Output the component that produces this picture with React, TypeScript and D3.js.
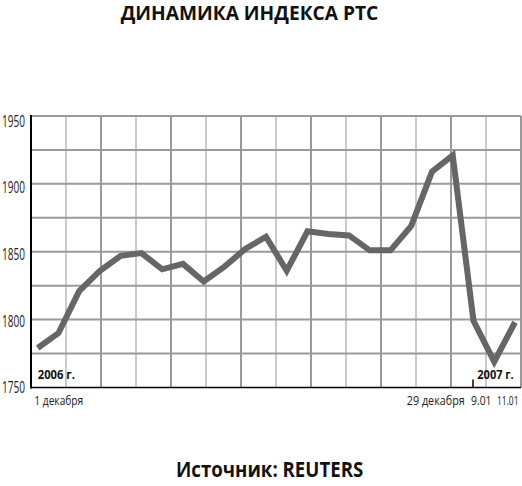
import React, { useLayoutEffect, useRef, useState } from "react";
import * as d3 from "d3";

const dates = [
  "1.12", "4.12", "5.12", "6.12", "7.12", "8.12", "11.12", "12.12", "13.12", "14.12",
  "15.12", "18.12", "19.12", "20.12", "21.12", "22.12", "25.12", "26.12", "27.12", "28.12",
  "29.12", "9.01", "10.01", "11.01",
];
const values = [
  1779, 1790, 1821, 1836, 1847, 1849, 1837, 1841, 1828, 1839,
  1852, 1861, 1836, 1865, 1863, 1862, 1851, 1851, 1869, 1909,
  1921, 1799, 1769, 1798,
];
const yTicks = [1750, 1800, 1850, 1900, 1950];
const yGrid = [1775, 1800, 1825, 1850, 1875, 1900, 1925, 1950];
const xLabels = [
  { i: 0, text: "1 декабря", dx: -3.4, len: 49 },
  { i: 20, text: "29 декабря", dx: -46, len: 58 },
  { i: 21, text: "9.01", dx: -2.5, len: 20.5 },
  { i: 23, text: "11.01", dx: -18, len: 21.5 },
];
const gridCols = d3.range(0, 15);

const W = 522;
const H = 486;
const font = "'Open Sans', 'Noto Sans', sans-serif";

type FitProps = {
  x: number;
  y: number;
  width: number;
  size: number;
  bold?: boolean;
  fill?: string;
  children: string;
};

function FitText({ x, y, width, size, bold, fill, children }: FitProps) {
  const ref = useRef<SVGTextElement>(null);
  const [sx, setSx] = useState(1);
  useLayoutEffect(() => {
    if (ref.current) {
      const w = ref.current.getComputedTextLength();
      if (w > 0) setSx(width / w);
    }
  }, [width, children, size]);
  return (
    <text
      ref={ref}
      transform={`translate(${x},${y}) scale(${sx},1)`}
      fontFamily={font}
      fontWeight={bold ? "bold" : "normal"}
      fontSize={size}
      fill={fill || "#222"}
    >
      {children}
    </text>
  );
}

export default function App() {
  const x = d3.scaleLinear().domain([0, dates.length - 1]).range([37.7, 515]);
  const y = d3.scaleLinear().domain([1750, 1950]).range([387.4, 116]);
  const yLab = d3.scaleLinear().domain([1750, 1950]).range([393.3, 126.7]);
  const gx = d3.scaleLinear().domain([0, 14]).range([31, 521]);
  const line = d3
    .line<number>()
    .x((_, i) => x(i))
    .y((d) => y(d))
    .curve(d3.curveLinear);

  return (
    <svg
      width={W}
      height={H}
      style={{ position: "absolute", left: 0, top: 0, background: "#fff" }}
    >
      <rect x={0} y={0} width={W} height={H} fill="#fff" />
      <FitText x={120.7} y={20.2} width={257.6} size={20} bold fill="#111">
        ДИНАМИКА ИНДЕКСА РТС
      </FitText>

      {/* vertical grid */}
      {gridCols.slice(1).map((c) => (
        <line
          key={"v" + c}
          x1={gx(c)}
          x2={gx(c)}
          y1={y(1950)}
          y2={y(1750)}
          stroke={c % 2 === 1 && c !== 14 ? "#cacaca" : "#9a9a9a"}
          strokeWidth={2}
        />
      ))}
      {/* horizontal grid */}
      {yGrid.map((v) => (
        <line
          key={"h" + v}
          x1={gx(0)}
          x2={gx(14)}
          y1={y(v)}
          y2={y(v)}
          stroke="#9a9a9a"
          strokeWidth={2}
        />
      ))}

      {/* axes */}
      <line x1={gx(0)} x2={gx(0)} y1={y(1950) - 1} y2={y(1750) + 1} stroke="#000" strokeWidth={2} />
      <line x1={gx(0)} x2={gx(14)} y1={y(1750)} y2={y(1750)} stroke="#000" strokeWidth={1.5} />
      <line x1={x(21) - 0.5} x2={x(21) - 0.5} y1={y(1750) - 8} y2={y(1750)} stroke="#000" strokeWidth={1.5} />

      {yTicks.map((v) => (
        <FitText key={"yt" + v} x={2} y={yLab(v)} width={23} size={16}>
          {String(v)}
        </FitText>
      ))}

      <path d={line(values) || ""} fill="none" stroke="#666" strokeWidth={6} strokeLinejoin="miter" />

      <FitText x={37.7} y={378.5} width={37.3} size={12.5} bold fill="#111">
        2006 г.
      </FitText>
      <FitText x={477.3} y={378.5} width={36.5} size={12.5} bold fill="#111">
        2007 г.
      </FitText>

      {xLabels.map((l) => (
        <FitText key={"xl" + l.i} x={x(l.i) + l.dx} y={405} width={l.len} size={13.5}>
          {l.text}
        </FitText>
      ))}

      <FitText x={176} y={476.7} width={187.3} size={21} bold fill="#111">
        Источник: REUTERS
      </FitText>
    </svg>
  );
}
